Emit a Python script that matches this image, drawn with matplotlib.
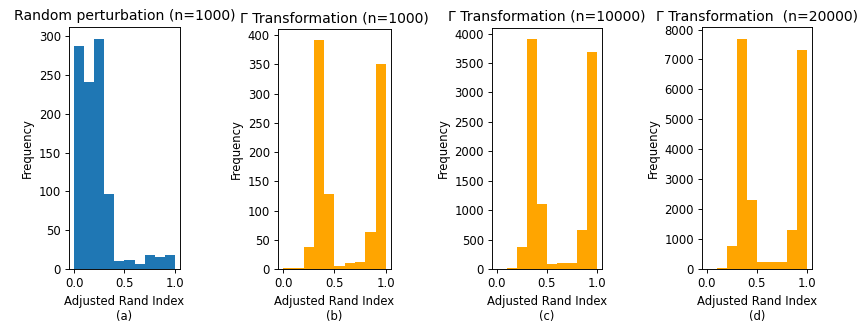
import numpy as np
import matplotlib.pyplot as plt

# histogram counts, 10 bins on [0, 1]
edges = np.linspace(0, 1, 11)
counts_a = [287, 241, 297, 97, 10, 11, 6, 18, 15, 18]
counts_b = [2, 2, 38, 391, 128, 5, 10, 12, 63, 350]
counts_c = [0, 25, 380, 3900, 1100, 80, 100, 100, 660, 3680]
counts_d = [0, 40, 780, 7700, 2320, 230, 230, 230, 1290, 7300]

titles = ['Random perturbation (n=1000)', '\u0393 Transformation (n=1000)',
          '\u0393 Transformation (n=10000)', '\u0393 Transformation  (n=20000)']
letters = ['(a)', '(b)', '(c)', '(d)']
colors = ['#1f77b4', 'orange', 'orange', 'orange']
all_counts = [counts_a, counts_b, counts_c, counts_d]

dpi = 84
fig = plt.figure(figsize=(860 / dpi, 327 / dpi), dpi=dpi)

# axes boxes in pixels: left, top, right, bottom
boxes = [(69, 27, 180, 269), (278, 29, 391, 269), (492, 28, 602, 269), (702, 27, 812, 269)]

centers = (edges[:-1] + edges[1:]) / 2
for box, counts, title, letter, c in zip(boxes, all_counts, titles, letters, colors):
    l, t, r, b = box
    ax = fig.add_axes([l / 860, (327 - b) / 327, (r - l) / 860, (b - t) / 327])
    ax.hist(centers, bins=edges, weights=counts, color=c)
    ax.set_title(title)
    ax.set_ylabel('Frequency')
    ax.set_xlabel('Adjusted Rand Index\n' + letter)
    ax.set_xticks([0.0, 0.5, 1.0])

fig.savefig('out.png', dpi=dpi)
